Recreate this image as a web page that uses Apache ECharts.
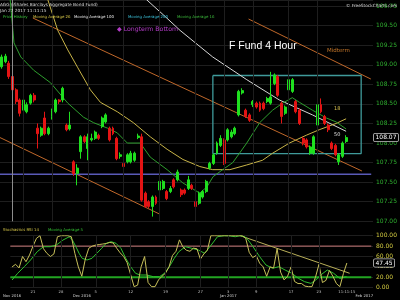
<!DOCTYPE html>
<html><head><meta charset="utf-8">
<script src="https://cdn.jsdelivr.net/npm/echarts@6/dist/echarts.min.js"></script>
<style>html,body{margin:0;padding:0;background:#000}#c{width:400px;height:300px}</style>
</head><body><div id="c"></div>
<script>
// ---------- DATA ----------
const SLOT_COUNT = 104; // 4-hour bar slots (97 traded + future slots)
const slots = Array.from({length: SLOT_COUNT}, (_, i) => String(i));
const dayTickIdx = [6, 14, 24, 34, 44, 54, 62, 70, 80, 88, 96];
const dayTickLabels = ['21', '28', '5', '12', '19', '27', '3', '9', '17', '23', '11:11:15'];
const monthTickIdx = [0, 20, 62, 101];
const monthTickLabels = ['Nov 2016', 'Dec 2016', 'Jan 2017', 'Feb 2017'];
const weekLineIdx = [6, 14, 24, 34, 44, 54, 62, 70, 80, 88];
const priceTicks = [107.00, 109.828];
const stochTicks = [0, 100];

// candles: [open, close, low, high]
const candles = [
[108.975,109.10,108.95,109.13],[109.04,109.11,109.02,109.14],[109.02,108.85,108.82,109.05],[108.85,108.68,108.65,108.87],
[108.68,108.53,108.50,108.70],[108.55,108.38,108.34,108.57],[108.42,108.55,108.40,108.58],[108.40,108.49,108.38,108.52],
[108.51,108.61,108.49,108.63],[108.61,108.55,108.52,108.64],[108.19,108.12,107.93,108.25],[108.10,108.19,108.08,108.21],
[108.32,108.12,108.10,108.40],[108.12,108.19,108.10,108.21],[108.34,108.42,108.30,108.44],[108.40,108.55,108.38,108.57],
[108.55,108.53,108.50,108.56],[108.55,108.70,108.52,108.72],[108.23,108.17,108.15,108.25],[108.18,108.23,108.16,108.40],
[107.76,107.61,107.58,107.78],[107.61,107.68,107.46,107.73],[107.89,108.08,107.80,108.10],[108.08,108.02,108.00,108.10],
[107.93,108.08,107.78,108.12],[108.04,108.06,108.02,108.12],[108.06,108.14,108.04,108.16],[108.10,108.06,108.04,108.12],
[108.21,108.32,108.19,108.34],[108.27,108.36,108.25,108.38],[108.19,108.04,108.02,108.21],[108.19,108.12,108.10,108.21],
[108.06,107.80,107.78,108.08],[107.83,107.85,107.80,107.88],[107.74,107.70,107.62,107.76],[107.76,107.85,107.74,107.87],
[107.76,107.87,107.74,107.90],[107.78,107.87,107.76,107.89],[108.07,108.09,108.05,108.12],[108.08,107.27,107.25,108.12],
[107.36,107.19,107.17,107.38],[107.25,107.19,107.17,107.27],[107.19,107.31,107.06,107.33],[107.31,107.23,107.21,107.33],
[107.40,107.51,107.38,107.53],[107.42,107.51,107.40,107.53],[107.38,107.29,107.27,107.40],[107.38,107.42,107.36,107.45],
[107.53,107.44,107.42,107.55],[107.53,107.63,107.51,107.66],[107.40,107.34,107.31,107.42],[107.40,107.36,107.34,107.42],
[107.42,107.53,107.40,107.58],[107.46,107.42,107.40,107.48],[107.25,107.19,107.17,107.27],[107.23,107.36,107.21,107.38],
[107.31,107.38,107.29,107.40],[107.38,107.51,107.36,107.53],[107.68,107.74,107.66,107.76],[107.74,107.85,107.72,107.87],
[107.87,108.00,107.85,108.02],[107.97,108.06,107.95,108.10],[108.04,107.74,107.72,108.06],[108.04,108.17,108.02,108.19],
[108.08,108.14,108.06,108.17],[108.12,108.19,108.10,108.21],[108.36,108.66,108.34,108.68],[108.64,108.67,108.62,108.70],
[108.42,108.34,108.32,108.44],[108.36,108.29,108.27,108.38],[108.49,108.53,108.46,108.55],[108.51,108.46,108.44,108.53],
[108.51,108.42,108.40,108.53],[108.51,108.44,108.42,108.53],[108.53,108.57,108.51,108.59],[108.51,108.59,108.49,108.91],
[108.76,108.87,108.74,108.89],[108.85,108.61,108.59,108.87],[108.51,108.34,108.25,108.53],[108.38,108.46,108.36,108.48],
[108.68,108.81,108.66,108.83],[108.66,108.81,108.64,108.83],[108.53,108.40,108.38,108.55],[108.42,108.25,108.23,108.44],
[108.06,108.00,107.97,108.08],[108.04,107.95,107.93,108.06],[107.87,107.95,107.85,107.97],[107.87,108.08,107.85,108.10],
[108.23,108.49,108.21,108.51],[108.49,108.40,108.38,108.57],[108.34,108.25,108.23,108.36],[108.23,108.17,108.14,108.25],
[108.00,107.93,107.91,108.02],[107.97,107.85,107.83,107.99],[107.76,107.85,107.72,107.87],[107.83,108.00,107.81,108.02],
[108.02,108.07,108.00,108.10]
];
const lastClose = 108.07;

// moving averages: [bar position, value]
const ma16 = [[2.2,109.9],[3.1,109.44],[3.4,109.28],[5.3,109.10],[8.9,108.93],[13.6,108.77],[18.4,108.51],[22.8,108.33],[25.6,108.26],[29.5,108.19],[32.2,108.13],[35,108.00],[38.6,108.00],[41.4,107.82],[46.1,107.66],[50.5,107.49],[55.2,107.36],[57.2,107.44],[58.9,107.57],[61.6,107.66],[64.4,107.75],[68.3,108.00],[71.9,108.26],[75.5,108.42],[78.3,108.51],[81,108.58],[83,108.52],[86.6,108.42],[90.5,108.32],[93.2,108.27],[96,108.18]];
const ma26 = [[12,109.95],[15.6,109.44],[18.4,109.19],[21.1,108.97],[24.7,108.68],[27.5,108.52],[32.2,108.40],[36.7,108.26],[41.4,108.08],[46.1,107.92],[50.5,107.79],[55.2,107.70],[58.8,107.66],[63.6,107.66],[68.3,107.72],[72.7,107.78],[75.5,107.87],[80.2,108.00],[84.9,108.10],[88.5,108.17],[93.2,108.25],[96,108.31]];
const ma100 = [[38,109.93],[45,109.64],[49.7,109.44],[58.8,109.10],[68.3,108.81],[77.4,108.55],[86.6,108.36],[96,108.15]];

// drawn annotations: [bar position, price]
const midtermUpper = [[68.8,109.585],[102.9,108.818]];
const midtermMiddle = [[8.65,109.598],[100.4,107.643]];
const midtermLower = [[-0.5,108.07],[44.1,107.09]];
const longtermBottom = [[-0.5,107.60],[103,107.60]];
const boxLeft = 58.85, boxRight = 100.2, boxTop = 108.863, boxBottom = 107.866;
const markerBar = 2.8;

// Stochastic RSI 14, one value per traded bar
const stoch = [40,45,38,60,50,63,80,95,100,75,66,60,65,98,100,100,100,98,66,40,
22,55,76,80,82,83,84,85,87,86,76,67,60,48,25,2,5,40,60,10,
2,2,15,22,28,40,62,70,92,78,72,70,76,75,55,65,72,100,100,100,
100,100,100,100,100,100,100,95,68,58,62,47,40,22,40,38,75,30,15,22,
40,12,8,8,3,2,2,20,45,10,14,33,22,8,2,27,47.45];
const stochMA5 = [[0,14.8],[1.6,27.7],[3.5,40.4],[5.3,53.3],[7.2,69.2],[9,78.8],[10.9,78.8],[12.7,82],[14.6,91.7],[16.4,98],[17.3,91.7],[18.3,78.8],[19.2,66.2],[20.1,56.5],[21.5,53.3],[22.9,56.5],[24.3,66.2],[25.7,75.8],[27,85.4],[28.4,88.5],[29.8,85.4],[31.2,75.8],[32.6,56.5],[34,40.4],[35.4,27.7],[36.7,24.4],[38.6,24.4],[40.5,21.2],[42.3,21.2],[43.7,27.7],[45.1,40.4],[46.5,56.5],[47.8,69.2],[49.7,78.8],[51.5,75.8],[53.4,72.5],[55.2,66.2],[57.1,82],[58.9,98],[60.8,100],[62.6,99.4],[64,98],[65.4,100],[66.8,98],[67.7,91.7],[69.1,78.8],[71,59.6],[72.8,43.7],[74.7,37.3],[76.5,40.4],[78.3,34],[80.2,27.7],[82.1,18],[83.9,11.5],[85.7,8.3],[87.1,14.8],[88.5,24.4],[90.4,34],[92.2,27.7],[94,18],[95.9,21.2]];
const stochTrend = [[65.4,100],[96.8,27.7]];
const stochUpperLevel = 80, stochLowerLevel = 20;

// ---------- CHART ----------
const F = '"DejaVu Sans", Verdana, sans-serif';
const GRID_COLOR = '#1e1e1e';
const chart = echarts.init(document.getElementById('c'), null, {renderer: 'canvas'});
const hidden = {show: false};
const valueX = (g) => ({type: 'value', gridIndex: g, min: -0.5, max: SLOT_COUNT - 0.5, show: false});
const lineS = (name, data, color, width, xi, yi, z, extra) => Object.assign({
  name, type: 'line', data, xAxisIndex: xi, yAxisIndex: yi, symbol: 'none', z: z || 3,
  lineStyle: {color, width}, silent: true, animation: false
}, extra || {});

const stochPairs = stoch.map((v, i) => [i, v]);

const option = {
  backgroundColor: '#000',
  animation: false,
  grid: [
    {left: -1, right: 26, top: 0, bottom: 78.7},
    {left: -1, right: 26, top: 235.7, bottom: 12.3}
  ],
  xAxis: [
    {type: 'category', gridIndex: 0, data: slots, axisLine: hidden, axisTick: hidden, axisLabel: hidden, splitLine: hidden},
    {type: 'category', gridIndex: 1, position: 'bottom', data: slots, axisLine: hidden, axisTick: hidden, splitLine: hidden,
      axisLabel: {interval: (i) => dayTickIdx.includes(i), formatter: (v, i) => dayTickLabels[dayTickIdx.indexOf(i)] || '',
        color: '#bdbdbd', fontSize: 3.8, fontFamily: F, margin: 2}},
    {type: 'category', gridIndex: 1, position: 'bottom', data: slots, offset: 4.3, axisLine: hidden, axisTick: hidden, splitLine: hidden,
      axisLabel: {interval: (i) => monthTickIdx.includes(i), formatter: (v, i) => monthTickLabels[monthTickIdx.indexOf(i)] || '',
        color: '#d0d0d0', fontSize: 3.8, fontFamily: F, margin: 2}},
    valueX(0), valueX(1)
  ],
  yAxis: [
    {type: 'value', gridIndex: 0, position: 'right', min: priceTicks[0], max: priceTicks[1], interval: 0.25,
      axisLine: hidden, axisTick: hidden,
      axisLabel: {showMaxLabel: false, formatter: (v) => v.toFixed(2), color: '#2fae2f', fontSize: 6, fontFamily: F, margin: 3},
      splitLine: {lineStyle: {color: GRID_COLOR, width: 1}}},
    {type: 'value', gridIndex: 1, position: 'right', min: stochTicks[0], max: stochTicks[1], interval: 20,
      axisLine: hidden, axisTick: hidden,
      axisLabel: {formatter: (v) => v.toFixed(2), color: '#d4cc40', fontSize: 6, fontFamily: F, margin: 3},
      splitLine: {lineStyle: {color: GRID_COLOR, width: 1}}}
  ],
  series: [
    lineS('gridMain', [[0, 108]], 'rgba(0,0,0,0)', 0, 3, 0, 0, {markLine: {silent: true, symbol: ['none', 'none'], label: hidden,
      lineStyle: {color: GRID_COLOR, width: 1, type: 'solid'}, data: weekLineIdx.map(i => ({xAxis: i}))}}),
    lineS('gridLow', [[0, 50]], 'rgba(0,0,0,0)', 0, 4, 1, 0, {markLine: {silent: true, symbol: ['none', 'none'], label: hidden,
      lineStyle: {color: GRID_COLOR, width: 1, type: 'solid'}, data: weekLineIdx.map(i => ({xAxis: i}))}}),
    lineS('marker', [[0, 108]], 'rgba(0,0,0,0)', 0, 3, 0, 1, {markLine: {silent: true, symbol: ['none', 'none'], label: hidden,
      lineStyle: {color: '#8c8c8c', width: 1, type: 'solid'}, data: [{xAxis: markerBar}]}}),
    lineS('Midterm upper', midtermUpper, '#c0682a', 1, 3, 0, 2),
    lineS('Midterm middle', midtermMiddle, '#c0682a', 1, 3, 0, 2),
    lineS('Midterm lower', midtermLower, '#c0682a', 1, 3, 0, 2),
    lineS('Longterm Bottom', longtermBottom, '#5a5ab8', 1.5, 3, 0, 2),
    lineS('Box', [[boxLeft, boxTop], [boxRight, boxTop], [boxRight, boxBottom], [boxLeft, boxBottom], [boxLeft, boxTop]], '#3f9a9a', 1.3, 3, 0, 2),
    lineS('Moving Average 100', ma100, '#d6d6d6', 1, 3, 0, 3),
    lineS('Moving Average 26', ma26, '#c8b448', 1, 3, 0, 3),
    lineS('Moving Average 16', ma16, '#2e9e2e', 1, 3, 0, 3),
    {
      name: 'Price History', type: 'candlestick', xAxisIndex: 0, yAxisIndex: 0, data: candles, z: 4,
      barWidth: '68%', silent: true,
      itemStyle: {color: '#1fe01f', color0: '#e41414', borderColor: '#1fe01f', borderColor0: '#e41414', borderWidth: 1},
      markLine: {silent: true, symbol: ['none', 'none'], lineStyle: {color: 'rgba(0,0,0,0)', width: 1},
        data: [{yAxis: lastClose}],
        label: {show: true, position: 'end', distance: 1, formatter: lastClose.toFixed(2), color: '#ffffff',
          backgroundColor: '#000', borderColor: '#c8c8c8', borderWidth: 0.8, borderRadius: 1, padding: [1, 1.5, 0.5, 1.5],
          fontSize: 6, fontFamily: F}}
    },
    lineS('Upper level', [[-0.5, stochUpperLevel], [103, stochUpperLevel]], '#c87878', 1, 4, 1, 2),
    lineS('Lower level', [[-0.5, stochLowerLevel], [103, stochLowerLevel]], '#22a422', 2, 4, 1, 2),
    lineS('Stoch trend', stochTrend, '#b8ae58', 1, 4, 1, 3),
    lineS('Moving Average 5', stochMA5, '#2fbf2f', 1, 4, 1, 3),
    lineS('Stochastics RSI 14', stochPairs, '#c8c05a', 1, 4, 1, 4, {markLine: {silent: true, symbol: ['none', 'none'],
      lineStyle: {color: 'rgba(0,0,0,0)', width: 1}, data: [{yAxis: stoch[stoch.length - 1]}],
      label: {show: true, position: 'end', distance: 1, formatter: stoch[stoch.length - 1].toFixed(2), color: '#ffffff',
        backgroundColor: '#000', borderColor: '#c8c8c8', borderWidth: 0.8, borderRadius: 1, padding: [1, 1.5, 0.5, 1.5],
        fontSize: 6, fontFamily: F}}})
  ],
  graphic: [
    {type: 'text', x: 0, y: 2.4, z: 100, style: {text: 'AGG (iShares Barclays Aggregate Bond Fund)', fill: '#dcdcdc', font: '4.3px ' + F}},
    {type: 'text', x: 0, y: 8.4, z: 100, style: {text: 'Jan 27 2017 11:11:15', fill: '#dcdcdc', font: '4.3px ' + F}},
    {type: 'text', x: 3, y: 14.6, z: 100, style: {text: 'Price History', fill: '#3ccc3c', font: '3.9px ' + F}},
    {type: 'text', x: 33, y: 14.6, z: 100, style: {text: 'Moving Average 26', fill: '#d8c848', font: '3.9px ' + F}},
    {type: 'text', x: 74, y: 14.6, z: 100, style: {text: 'Moving Average 100', fill: '#ececec', font: '3.9px ' + F}},
    {type: 'text', x: 128, y: 14.6, z: 100, style: {text: 'Moving Average 200', fill: '#3cc4dc', font: '3.9px ' + F}},
    {type: 'text', x: 177, y: 14.6, z: 100, style: {text: 'Moving Average 16', fill: '#3cbc3c', font: '3.9px ' + F}},
    {type: 'text', x: 346, y: 4, z: 100, style: {text: '© FreeStockCharts.com', fill: '#d8d8d8', font: '4.3px ' + F}},
    {type: 'text', x: 229, y: 40.5, z: 100, style: {text: 'F Fund 4 Hour', fill: '#ffffff', font: '10.5px "Liberation Sans", Arial, sans-serif'}},
    {type: 'text', x: 327, y: 48, z: 100, style: {text: 'Midterm', fill: '#c8782a', font: '5.5px ' + F}},
    {type: 'text', x: 117, y: 26.8, z: 100, style: {text: '◆ Longterm Bottom', fill: '#b43cc8', font: '6.2px ' + F}},
    {type: 'text', x: 334, y: 106, z: 100, style: {text: '18', fill: '#d8c050', font: '5px ' + F}},
    {type: 'text', x: 334, y: 132, z: 100, style: {text: '50', fill: '#e0e0e0', font: '5px ' + F}},
    {type: 'text', x: 3, y: 228, z: 100, style: {text: 'Stochastics RSI 14', fill: '#d8c848', font: '3.9px ' + F}},
    {type: 'text', x: 48, y: 228, z: 100, style: {text: 'Moving Average 5', fill: '#34c434', font: '3.9px ' + F}}
  ]
};
chart.setOption(option);
</script>
</body></html>
